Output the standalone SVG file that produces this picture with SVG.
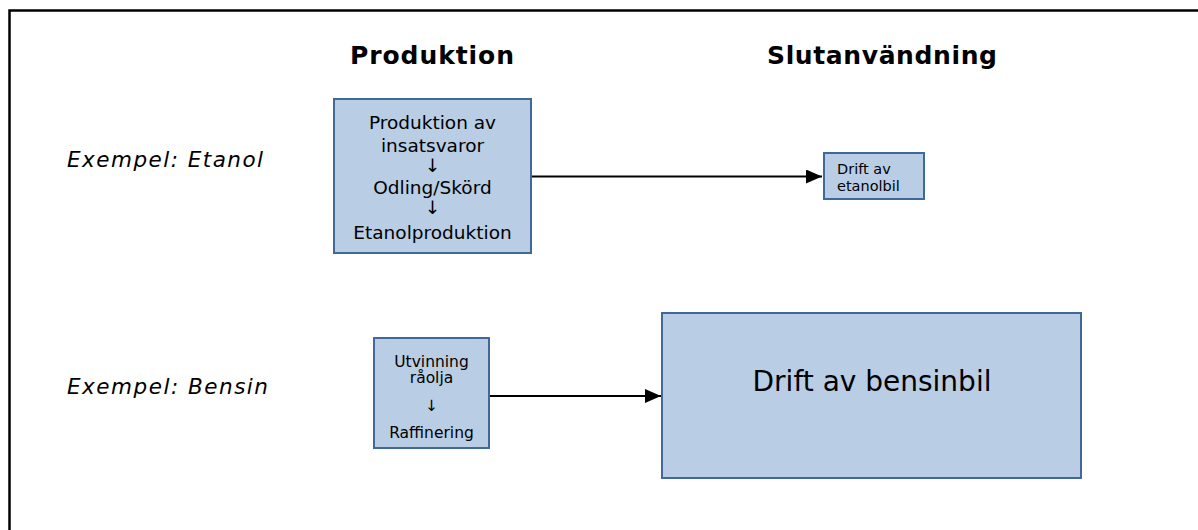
<svg xmlns="http://www.w3.org/2000/svg" width="1198" height="530" viewBox="0 0 1198 530">
<style>
.box{fill:#b9cde5;stroke:#41689a;stroke-width:2}
.t{font-family:"DejaVu Sans",Verdana,sans-serif;fill:#000}
.h{font-weight:bold;font-size:25px;text-anchor:middle}
.ex{font-style:italic;font-size:21.5px}
.c{text-anchor:middle}
.conn{stroke:#000;stroke-width:2;fill:none}
</style>
<defs>
<marker id="ah" markerWidth="8" markerHeight="7" refX="8" refY="3.5" orient="auto" markerUnits="strokeWidth">
<path d="M0,0 L8,3.5 L0,7 Z" fill="#000"/>
</marker>
</defs>
<rect x="1" y="1" width="1196" height="528" fill="#fff" stroke="none"/>
<path d="M9.5,540 V10.5 H1200" fill="none" stroke="#000" stroke-width="2.5"/>
<g id="headers">
<text class="t h" x="432" y="64" textLength="164" lengthAdjust="spacing">Produktion</text>
<text class="t h" x="882" y="64" textLength="230" lengthAdjust="spacing">Slutanvändning</text>
</g>
<g id="labels">
<text class="t ex" x="67" y="167" textLength="196" lengthAdjust="spacing">Exempel:  Etanol</text>
<text class="t ex" x="67" y="394" textLength="201" lengthAdjust="spacing">Exempel:  Bensin</text>
</g>
<g id="connectors">
<line class="conn" x1="532" y1="176.5" x2="822" y2="176.5" marker-end="url(#ah)"/>
<line class="conn" x1="489" y1="396" x2="661" y2="396" marker-end="url(#ah)"/>
</g>
<g id="node-etanolproduktion">
<rect class="box" x="334" y="99" width="197" height="154"/>
<text class="t c" font-size="18.5" x="432.5" y="129">Produktion av</text>
<text class="t c" font-size="18.5" x="432.5" y="152">insatsvaror</text>
<text class="t c" font-size="18.5" x="432.5" y="172">↓</text>
<text class="t c" font-size="18.5" x="432.5" y="194">Odling/Skörd</text>
<text class="t c" font-size="18.5" x="432.5" y="214">↓</text>
<text class="t c" font-size="18.5" x="432.5" y="239">Etanolproduktion</text>
</g>
<g id="node-etanolbil">
<rect class="box" x="824" y="153" width="100" height="46"/>
<text class="t" font-size="14.5" x="837" y="174">Drift av</text>
<text class="t" font-size="14.5" x="837" y="191">etanolbil</text>
</g>
<g id="node-bensinproduktion">
<rect class="box" x="374" y="338" width="115" height="110"/>
<text class="t c" font-size="15.5" x="431.5" y="367">Utvinning</text>
<text class="t c" font-size="15.5" x="431.5" y="383">råolja</text>
<text class="t c" font-size="15.5" x="431.5" y="411">↓</text>
<text class="t c" font-size="15.5" x="431.5" y="438">Raffinering</text>
</g>
<g id="node-bensinbil">
<rect class="box" x="662" y="313" width="419" height="165"/>
<text class="t c" font-size="28" x="872" y="391">Drift av bensinbil</text>
</g>
</svg>
